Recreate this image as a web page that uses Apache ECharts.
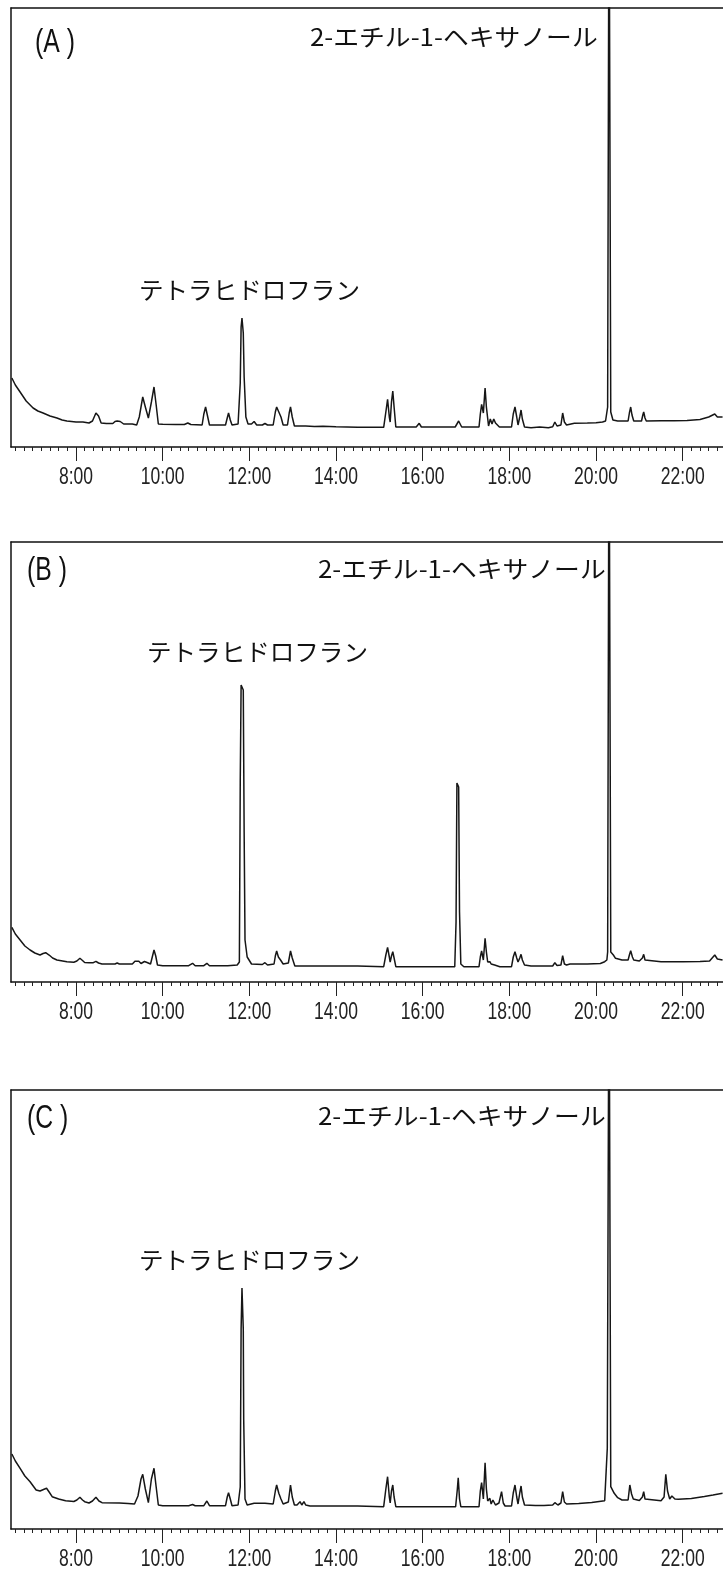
<!DOCTYPE html>
<html>
<head>
<meta charset="utf-8">
<script src="https://cdn.jsdelivr.net/npm/echarts@6/dist/echarts.min.js"></script>
<style>
html,body{margin:0;padding:0;background:#fff;}
#chart{width:723px;height:1570px;}
</style>
</head>
<body>
<div id="chart"></div>
<script>
// retention time (min) , detector response (arbitrary units)
const panelLabels = ['(A )', '(B )', '(C )'];
const peakLabel1 = '2-エチル-1-ヘキサノール';
const peakLabel2 = 'テトラヒドロフラン';
const majorTicks = [8, 10, 12, 14, 16, 18, 20, 22];
const tickLabels = ['8:00', '10:00', '12:00', '14:00', '16:00', '18:00', '20:00', '22:00'];
const timeMin = 6.5, timeMax = 22.93;

const seriesA = [[6.52,69],[6.6,62],[6.71,55],[6.85,46],[7.01,39],[7.12,36],[7.24,34],[7.4,31],[7.56,29],[7.68,27],[7.79,26],[8.0,25],[8.16,25],[8.3,24],[8.38,26],[8.46,34],[8.52,31],[8.58,24],[8.7,23.5],[8.85,23.5],[8.9,25.5],[8.95,26],[9.02,25.5],[9.1,23],[9.3,23],[9.4,22],[9.46,30],[9.54,50],[9.6,40],[9.67,29],[9.74,45],[9.80,60],[9.85,42],[9.90,23],[10.0,22.7],[10.3,22.5],[10.5,22.5],[10.58,24],[10.65,22.5],[10.91,22],[10.95,33],[10.99,40],[11.03,32],[11.08,22],[11.45,22],[11.49,29],[11.52,34],[11.56,27],[11.6,22],[11.74,23],[11.79,64],[11.81,120],[11.83,129],[11.86,114],[11.88,70],[11.92,30],[11.97,23],[12.05,23],[12.11,25.5],[12.17,22],[12.3,22],[12.36,23.5],[12.42,22],[12.55,22],[12.6,35],[12.63,40],[12.68,35],[12.73,30],[12.78,22],[12.88,22],[12.92,34],[12.95,40],[12.99,30],[13.04,21],[13.3,21],[13.5,20.5],[13.7,20.8],[14.0,20.3],[14.5,19.7],[15.1,19.7],[15.15,35],[15.19,47.7],[15.23,30],[15.25,25],[15.28,45],[15.31,56],[15.34,40],[15.38,20],[15.85,20],[15.92,23.7],[15.97,20],[16.75,20],[16.83,26],[16.9,20],[17.3,20],[17.33,33],[17.36,42.7],[17.40,34],[17.44,59],[17.47,40],[17.52,21],[17.56,28],[17.6,23],[17.64,28],[17.68,24],[17.72,26],[17.77,20],[18.05,20],[18.09,33],[18.13,40],[18.17,30],[18.2,22],[18.24,30],[18.27,37],[18.3,28],[18.35,20],[18.5,19.3],[18.7,20],[18.9,19.3],[19.0,20.3],[19.05,25],[19.1,21],[19.19,22],[19.23,34],[19.27,25],[19.32,22],[19.5,23.7],[19.8,24],[20.0,24.3],[20.15,25],[20.22,26],[20.268,40],[20.30,600],[20.322,600],[20.34,35],[20.39,27],[20.5,26],[20.74,26],[20.77,34],[20.80,40],[20.83,32],[20.87,26],[21.05,26],[21.08,32],[21.10,35],[21.13,29],[21.16,26],[21.5,26.3],[21.8,26.3],[22.1,26.5],[22.4,27.5],[22.6,30],[22.74,33],[22.8,30],[22.92,30]];

const seriesB = [[6.52,54.7],[6.6,48],[6.71,42],[6.82,36],[6.94,32],[7.05,29],[7.17,27],[7.24,28.5],[7.3,29.3],[7.38,27],[7.46,24],[7.56,22],[7.79,20.3],[7.95,19.8],[8.02,21],[8.09,23.7],[8.15,21.5],[8.2,19.5],[8.3,19.3],[8.4,19.3],[8.46,20.7],[8.52,19],[8.6,18],[8.9,18],[8.95,19],[9.0,18],[9.3,18],[9.36,20.7],[9.45,20.7],[9.5,18.5],[9.58,20.5],[9.64,19.5],[9.72,18],[9.76,25],[9.80,32],[9.84,26],[9.88,17],[10.0,16.3],[10.6,16.3],[10.69,18.7],[10.75,16.3],[10.95,16.3],[11.02,18.7],[11.08,16.3],[11.5,16.3],[11.72,17],[11.77,20],[11.79,200],[11.81,297],[11.86,292],[11.88,150],[11.9,42],[11.95,25],[12.05,18],[12.3,17.5],[12.36,19.3],[12.42,17],[12.57,18],[12.6,26],[12.63,31],[12.67,25],[12.72,22],[12.78,18],[12.9,19],[12.95,31],[12.99,24],[13.05,16],[13.5,16],[14.5,16],[15.1,15.3],[15.15,27],[15.19,34.7],[15.23,25],[15.25,20],[15.28,26],[15.31,30.3],[15.34,24],[15.38,15.3],[15.88,15.3],[15.92,17],[15.96,15.3],[16.09,15.3],[16.13,17],[16.17,15.3],[16.74,15.3],[16.77,60],[16.79,199],[16.83,195],[16.85,70],[16.88,18],[16.95,15.3],[17.3,15.3],[17.33,25],[17.36,31],[17.4,22],[17.44,43.7],[17.47,30],[17.5,20],[17.55,20.3],[17.58,18],[17.62,19],[17.66,17],[17.7,18],[17.78,15.3],[18.05,15.3],[18.09,25],[18.13,30.3],[18.17,24],[18.2,20],[18.24,24],[18.27,27.7],[18.3,22],[18.35,17],[18.5,16],[19.0,16],[19.05,19.3],[19.1,16.5],[19.19,17],[19.23,26.3],[19.27,18],[19.32,17],[19.4,18],[19.8,18],[20.1,18.5],[20.2,20.3],[20.25,22],[20.268,30],[20.30,600],[20.322,600],[20.34,30],[20.4,27],[20.45,23.7],[20.6,22],[20.74,22],[20.77,27],[20.80,31.3],[20.84,25],[20.87,22],[21.0,21],[21.07,24],[21.10,27.7],[21.13,22],[21.16,20.3],[21.5,20.3],[22.0,20.3],[22.4,20.5],[22.62,21],[22.74,27],[22.8,23],[22.92,22]];

const seriesC = [[6.52,75],[6.6,68],[6.71,60.7],[6.82,53],[6.94,47.3],[7.08,39],[7.17,38],[7.25,39.5],[7.32,40.7],[7.38,37],[7.45,32.3],[7.6,30],[7.76,28.3],[7.95,27.5],[8.02,29],[8.09,31.7],[8.15,29],[8.2,27.3],[8.3,26],[8.38,28],[8.46,31.7],[8.53,28],[8.6,26.3],[9.0,26],[9.2,25.5],[9.35,25],[9.43,33],[9.50,50],[9.54,54.7],[9.6,40],[9.67,26.3],[9.74,50],[9.80,60.7],[9.85,42],[9.90,24],[10.0,23.3],[10.6,23.3],[10.69,24.5],[10.75,23.3],[10.95,23.3],[11.02,28],[11.08,23.3],[11.45,23.3],[11.49,32],[11.52,36.3],[11.56,30],[11.6,23.3],[11.74,24],[11.79,42],[11.81,200],[11.83,241],[11.86,200],[11.87,109],[11.9,30],[11.95,24],[12.11,25.7],[12.36,25.7],[12.55,25],[12.6,38],[12.63,44],[12.68,35.7],[12.73,30],[12.78,25],[12.9,27],[12.95,44],[12.99,32],[13.04,24],[13.1,24],[13.17,27.3],[13.21,24],[13.26,27.3],[13.3,24],[13.4,23],[14.5,23],[15.1,22.3],[15.15,40],[15.19,52.3],[15.23,32],[15.25,26],[15.28,38],[15.31,44],[15.34,32],[15.38,22.3],[15.88,22.3],[15.92,24],[15.96,22.3],[16.76,22.3],[16.8,40],[16.82,51.3],[16.85,30],[16.88,22.3],[17.3,22.3],[17.33,38],[17.36,46.3],[17.4,30],[17.44,66.3],[17.47,40],[17.5,28],[17.55,30.7],[17.58,25],[17.62,29],[17.68,24],[17.76,26],[17.82,37.3],[17.86,26],[17.9,23],[18.05,23],[18.09,36],[18.13,44],[18.17,32],[18.2,25],[18.24,36],[18.27,43],[18.3,32],[18.35,24],[18.6,23.5],[18.8,23.5],[19.0,24],[19.05,26.3],[19.12,24],[19.19,26],[19.23,37.3],[19.27,27],[19.32,25],[19.6,25.5],[19.9,26.5],[20.2,28.3],[20.26,80.7],[20.30,600],[20.322,600],[20.34,42.3],[20.42,35.7],[20.5,31.3],[20.6,29],[20.74,29],[20.78,44],[20.82,35],[20.86,30],[21.0,28.5],[21.07,32],[21.10,37.3],[21.13,30],[21.17,28.3],[21.5,28.3],[21.57,32],[21.61,54.7],[21.65,38],[21.7,30],[21.75,33],[21.78,34.7],[21.82,30],[21.9,29.7],[22.2,30.5],[22.5,32.5],[22.7,34],[22.92,35.7]];

const allSeries = [seriesA, seriesB, seriesC];

// layout
const gridTops = [8, 542, 1090];
const gridHeights = [439, 440, 439];
const yMax = [439, 440, 439];
const minorTicks = [];
for (let i = 33; i <= 114; i++) minorTicks.push(+(i * 0.2).toFixed(1));

const tickFont = "24px 'Liberation Sans', Arial, sans-serif";
const panelFont = "33px 'Liberation Sans', Arial, sans-serif";
const jpFont = "24px 'Noto Sans CJK JP', sans-serif";
const ink = '#111';

const chart = echarts.init(document.getElementById('chart'), null, {renderer: 'canvas'});

const grids = [], xAxes = [], yAxes = [], series = [];
for (let i = 0; i < 3; i++) {
  grids.push({left: 11, right: 0, top: gridTops[i], height: gridHeights[i], show: false});
  const base = xAxes.length;
  xAxes.push({type: 'value', gridIndex: i, min: timeMin, max: timeMax, position: 'bottom',
    axisLine: {show: true, onZero: false, lineStyle: {color: ink, width: 1.5}},
    axisTick: {show: true, customValues: majorTicks, length: 14, lineStyle: {color: '#222', width: 1}},
    axisLabel: {show: false}, splitLine: {show: false}});
  xAxes.push({type: 'value', gridIndex: i, min: timeMin, max: timeMax, position: 'bottom',
    axisLine: {show: false, onZero: false},
    axisTick: {show: true, customValues: minorTicks, length: 4, lineStyle: {color: '#222', width: 1}},
    axisLabel: {show: false}, splitLine: {show: false}});
  xAxes.push({type: 'value', gridIndex: i, min: timeMin, max: timeMax, position: 'top',
    axisLine: {show: true, onZero: false, lineStyle: {color: ink, width: 1.5}},
    axisTick: {show: false}, axisLabel: {show: false}, splitLine: {show: false}});
  yAxes.push({type: 'value', gridIndex: i, min: 0, max: yMax[i], position: 'left',
    axisLine: {show: true, onZero: false, lineStyle: {color: ink, width: 1.5}},
    axisTick: {show: false}, axisLabel: {show: false}, splitLine: {show: false}});
  series.push({type: 'line', xAxisIndex: base, yAxisIndex: i, data: allSeries[i],
    showSymbol: false, symbol: 'none', clip: true, animation: false, silent: true,
    lineStyle: {color: '#161616', width: 1.5}});
  series.push({type: 'custom', xAxisIndex: base, yAxisIndex: i, clip: false, silent: true,
    data: majorTicks.map(t => [t, 0]),
    renderItem: (params, api) => {
      const p = api.coord([api.value(0), 0]);
      return {type: 'text', x: p[0], y: p[1] + 30.5, scaleX: 0.73,
        style: {text: tickLabels[params.dataIndex], font: tickFont, fill: '#222',
          align: 'center', verticalAlign: 'middle'}};
    }});
}

const graphics = [];
const panelLabelPos = [[35, 42.5], [27, 570.5], [27, 1118.5]];
const label1Pos = [[310, 37], [318, 569], [318, 1116]];
const label2Pos = [[139, 290], [147, 652], [139, 1260]];
for (let i = 0; i < 3; i++) {
  graphics.push({type: 'text', x: panelLabelPos[i][0], y: panelLabelPos[i][1], scaleX: 0.75,
    style: {text: panelLabels[i], font: panelFont, fill: ink, align: 'left', verticalAlign: 'middle'}});
  graphics.push({type: 'text', x: label1Pos[i][0], y: label1Pos[i][1], scaleX: 1.075,
    style: {text: peakLabel1, font: jpFont, fill: ink, verticalAlign: 'middle', align: 'left'}});
  graphics.push({type: 'text', x: label2Pos[i][0], y: label2Pos[i][1], scaleX: 1.023,
    style: {text: peakLabel2, font: jpFont, fill: ink, verticalAlign: 'middle', align: 'left'}});
}

chart.setOption({
  animation: false,
  backgroundColor: '#fff',
  grid: grids, xAxis: xAxes, yAxis: yAxes, series: series,
  graphic: graphics
});
</script>
</body>
</html>
